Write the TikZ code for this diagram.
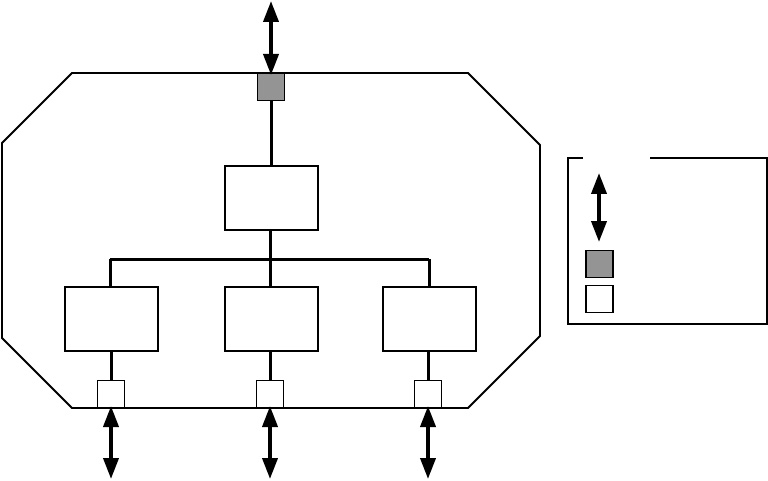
\documentclass[tikz,border=0pt]{standalone}
\usetikzlibrary{arrows.meta}
\begin{document}
\begin{tikzpicture}[x=1pt,y=-1pt,
  box/.style={draw,line width=2pt,minimum width=93pt,minimum height=64pt,inner sep=0pt,anchor=north west},
  port/.style={draw,line width=1pt,minimum width=27pt,minimum height=27pt,inner sep=0pt},
  gport/.style={port,fill=black!42},
  wport/.style={port,fill=white},
  link/.style={line width=3pt},
  dbl/.style={line width=3.8pt,{Triangle[width=15pt,length=21pt]}-{Triangle[width=15pt,length=21pt]}}
]
\useasboundingbox (0,0) rectangle (768,481);
% enclosure
\draw[line width=1.8pt] (72,73) -- (468,73) -- (540,145) -- (540,336) -- (468,408) -- (72,408) -- (2,338) -- (2,143) -- cycle;
% boxes
\node[box] (top) at (224,165) {};
\node[box] (l) at (64,286) {};
\node[box] (m) at (224,286) {};
\node[box] (r) at (382,286) {};
% ports
\node[gport] (pt) at (271,87) {};
\node[wport] (pl) at (111,394) {};
\node[wport] (pm) at (270,394) {};
\node[wport] (pr) at (428,394) {};
% bus
\coordinate (bus) at (270,259);
\coordinate (busl) at (110,259);
\coordinate (busr) at (429,259);
\draw[link] (pt.south) -- (pt.south |- top.north);
\draw[link] (top.south -| bus) -- (bus);
\draw[link] (busl) -- (busr);
\draw[link] (busl) -- (busl |- l.north);
\draw[link] (bus) -- (bus |- m.north);
\draw[link] (busr) -- (busr |- r.north);
\draw[link] (l.south -| pl) -- (pl.north);
\draw[link] (m.south -| pm) -- (pm.north);
\draw[link] (r.south -| pr) -- (pr.north);
% external arrows
\coordinate (at) at (271,1);
\coordinate (al) at (111,479);
\coordinate (am) at (270,479);
\coordinate (ar) at (428,479);
\draw[dbl] (at) -- ([yshift=-2pt]pt.north);
\draw[dbl] ([yshift=2pt]pl.south) -- (al);
\draw[dbl] ([yshift=2pt]pm.south) -- (am);
\draw[dbl] ([yshift=2pt]pr.south) -- (ar);
% legend
\draw[line width=1.2pt] (583,158) -- (568,158) -- (568,324) -- (767,324) -- (767,158) -- (650,158);
\coordinate (lga) at (599,173);
\coordinate (lgb) at (599,242);
\draw[dbl] (lga) -- (lgb);
\node[gport,line width=1.5pt] (lg) at (599.5,264) {};
\node[wport,line width=1.5pt] (lw) at (599.5,299) {};
\end{tikzpicture}
\end{document}
